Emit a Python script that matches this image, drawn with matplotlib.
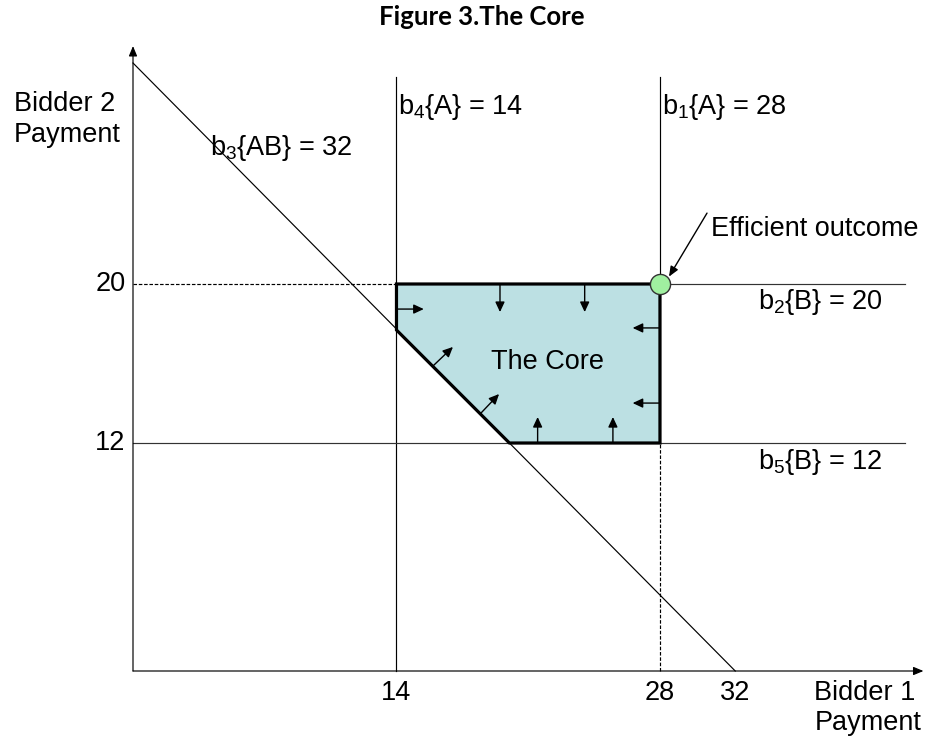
import matplotlib
matplotlib.use("Agg")
import matplotlib.pyplot as plt
import numpy as np
from matplotlib.patches import Polygon

plt.rcParams['font.family'] = ['Liberation Sans', 'DejaVu Sans']
plt.rcParams['mathtext.fontset'] = 'custom'
plt.rcParams['mathtext.rm'] = 'Liberation Sans'
plt.rcParams['mathtext.it'] = 'Liberation Sans:italic'

# ---------------- data ----------------
title = "Figure 3.The Core"
x_ticks = [14, 28, 32]          # bidder 1 payment marks
y_ticks = [12, 20]              # bidder 2 payment marks
b1_A = 28
b2_B = 20
b3_AB = 32
b4_A = 14
b5_B = 12
core_x = [14, 28, 28, 20, 14]
core_y = [20, 20, 12, 12, 18]
efficient_x = 28
efficient_y = 20
# small "push" arrows inside the core (start -> end)
push_x0 = [14, 19.5, 24.0, 28, 28, 21.5, 25.5, 15.94, 18.49]
push_y0 = [18.91, 20, 20, 18.09, 14.12, 12, 12, 16.09, 13.59]
push_x1 = [15.45, 19.5, 24.0, 26.55, 26.55, 21.5, 25.5, 17.0, 19.45]
push_y1 = [18.91, 18.78, 18.78, 18.09, 14.12, 13.38, 13.38, 17.1, 14.6]

# ---------------- layout (schematic, piecewise-linear vertical scale) ----------------
knots_data = [-10, 0, 12, 18, 20, 32, 50]
knots_px = [-123, 67, 295, 408, 454, 675, 1006.6]

def fwd(y):
    return np.interp(y, knots_data, knots_px)

def inv(h):
    return np.interp(h, knots_px, knots_data)

fig = plt.figure(figsize=(9.29, 7.38), dpi=100)
ax = fig.add_axes([0, 0, 1, 1])
sx = 18.82
ax.set_xlim(-133 / sx, (929 - 133) / sx)
ax.set_yscale('function', functions=(fwd, inv))
ax.set_ylim(inv(0), inv(738))
ax.axis('off')

lw = 0.85
col = 'black'
x_end = 41.0
v_top = 31.24

# core polygon
poly = Polygon(list(zip(core_x, core_y)), closed=True, facecolor='#bce0e3',
               edgecolor='black', linewidth=2.3, zorder=2, joinstyle='miter')
ax.add_patch(poly)

# axes arrows
ax.annotate('', xy=(0, 32.92), xytext=(0, 0),
            arrowprops=dict(arrowstyle='-|>,head_length=0.6,head_width=0.25',
                            lw=lw, color=col, shrinkA=0, shrinkB=0), zorder=3)
ax.annotate('', xy=(42.0, 0), xytext=(0, 0),
            arrowprops=dict(arrowstyle='-|>,head_length=0.6,head_width=0.25',
                            lw=lw, color=col, shrinkA=0, shrinkB=0), zorder=3)

# package bid line x + y = 32
ax.plot([0, b3_AB], [b3_AB, 0], color=col, lw=lw, zorder=1)

# vertical bid lines
ax.plot([b4_A, b4_A], [0, v_top], color=col, lw=lw, zorder=1)
ax.plot([b1_A, b1_A], [b5_B, v_top], color=col, lw=lw, zorder=1)
ax.plot([b1_A, b1_A], [0, b5_B], color=col, lw=lw, ls=(0, (3, 1.5)), zorder=1)

# horizontal bid lines
ax.plot([0, b4_A], [b2_B, b2_B], color=col, lw=lw, ls=(0, (3, 1.5)), zorder=1)
ax.plot([b4_A, x_end], [b2_B, b2_B], color='#333333', lw=lw, zorder=1)
ax.plot([0, x_end], [b5_B, b5_B], color='#333333', lw=lw, zorder=1)

# push arrows
for x0, y0, x1, y1 in zip(push_x0, push_y0, push_x1, push_y1):
    ax.annotate('', xy=(x1, y1), xytext=(x0, y0),
                arrowprops=dict(arrowstyle='-|>,head_length=0.6,head_width=0.28',
                                lw=1.0, color='black', shrinkA=0, shrinkB=0),
                zorder=3)

# efficient outcome
ax.plot([efficient_x], [efficient_y], marker='o', ms=14.5, mfc='#a0f0a0',
        mec='#333333', mew=1.0, zorder=5)
ax.annotate('', xy=(28.48, 20.4), xytext=(30.5, 23.85),
            arrowprops=dict(arrowstyle='-|>,head_length=0.6,head_width=0.25',
                            lw=1.0, color='black', shrinkA=0, shrinkB=0), zorder=6)

fs = 19.5
ax.text(30.7, 22.99, 'Efficient outcome', fontsize=fs, ha='left', va='center')

# bid labels
ax.text(b4_A + 0.1, 29.6, r'b$_4${A} = 14', fontsize=fs, ha='left', va='center')
ax.text(b1_A + 0.1, 29.6, r'b$_1${A} = 28', fontsize=fs, ha='left', va='center')
ax.text(4.1, 27.4, r'b$_3${AB} = 32', fontsize=fs, ha='left', va='center')
ax.text(33.2, 19.2, r'b$_2${B} = 20', fontsize=fs, ha='left', va='center')
ax.text(33.2, 11.0, r'b$_5${B} = 12', fontsize=fs, ha='left', va='center')
ax.text(22.0, 16.3, 'The Core', fontsize=fs, ha='center', va='center', zorder=4)

# tick labels
for v in x_ticks:
    ax.text(v, -1.15, str(v), fontsize=fs, ha='center', va='center')
for v in y_ticks:
    ax.text(-0.4, v, str(v), fontsize=fs, ha='right', va='center')

# axis labels
ax.text(36.2, -1.95, 'Bidder 1\nPayment', fontsize=fs, ha='left', va='center',
        multialignment='left', linespacing=1.2)
ax.text(-6.32, 28.93, 'Bidder 2\nPayment', fontsize=fs, ha='left', va='center',
        multialignment='left', linespacing=1.25)

# title
fig.text(0.519, 0.977, title, fontsize=18.5, fontweight='bold',
         family=['Lato', 'DejaVu Sans'], ha='center', va='center')

fig.savefig('out.png', dpi=100)
